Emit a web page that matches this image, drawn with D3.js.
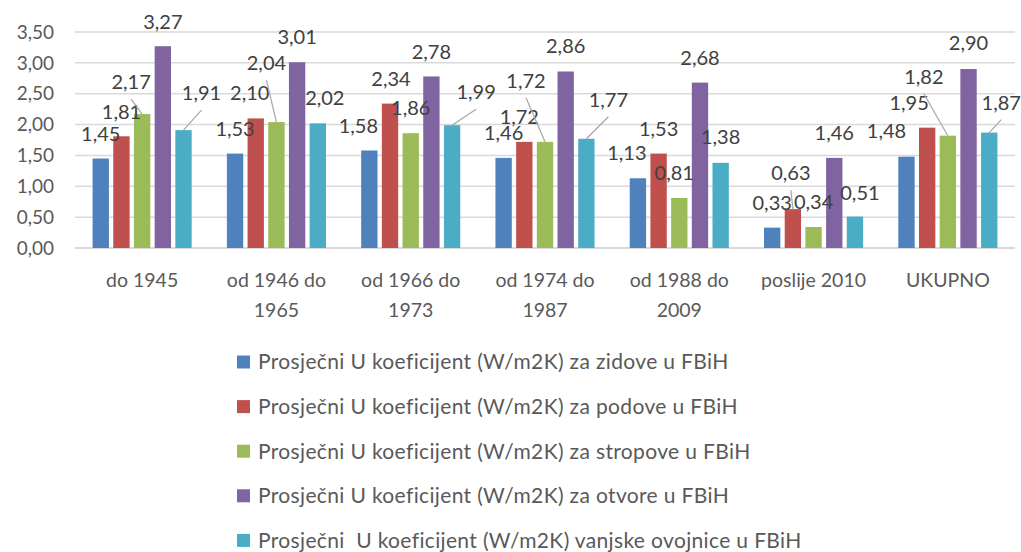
<!DOCTYPE html>
<html>
<head>
<meta charset="utf-8">
<script src="https://cdn.jsdelivr.net/npm/d3@7"></script>
<style>
  body { margin: 0; background: #fff; }
  svg text { font-family: Lato, "Open Sans", sans-serif; fill: #595959; }
</style>
</head>
<body>
<svg id="chart" width="1021" height="552"></svg>
<script>
// categories (x axis)
var categories = ["do 1945", "od 1946 do 1965", "od 1966 do 1973", "od 1974 do 1987",
                  "od 1988 do 2009", "poslije 2010", "UKUPNO"];

// series names (legend)
var seriesNames = [
  "Prosječni U koeficijent (W/m2K) za zidove u FBiH",
  "Prosječni U koeficijent (W/m2K) za podove u FBiH",
  "Prosječni U koeficijent (W/m2K) za stropove u FBiH",
  "Prosječni U koeficijent (W/m2K) za otvore u FBiH",
  "Prosječni  U koeficijent (W/m2K) vanjske ovojnice u FBiH"
];

// values per series
var zidove   = [1.45, 1.53, 1.58, 1.46, 1.13, 0.33, 1.48];
var podove   = [1.81, 2.10, 2.34, 1.72, 1.53, 0.63, 1.95];
var stropove = [2.17, 2.04, 1.86, 1.72, 0.81, 0.34, 1.82];
var otvore   = [3.27, 3.01, 2.78, 2.86, 2.68, 1.46, 2.90];
var ovojnice = [1.91, 2.02, 1.99, 1.77, 1.38, 0.51, 1.87];

var yTicks = [0, 0.5, 1, 1.5, 2, 2.5, 3, 3.5];

var colors = ["#4f81bd", "#c0504d", "#9bbb59", "#8064a2", "#4bacc6"];

// label nudges [dx, dy, leader] as excel placed them, rows = series, cols = categories
var labelNudge = [
  [[0,-25,0],[0,-25,0],[-11,-24,0],[0,-25,0],[-11,-25,0],[0,-25,0],[-20,-26,0]],
  [[0,-24,0],[-6,-25,0],[1,-25,0],[-5,-25,0],[0,-25,0],[-2,-36,1],[-18,-25,0]],
  [[-11,-32,1],[-10,-59,1],[0,-25,0],[-19,-61,1],[-5,-25,0],[0,-25,0],[-24,-59,1]],
  [[0,-24,0],[0,-25,0],[0,-24,0],[0,-25,0],[0,-25,0],[0,-25,0],[0,-26,0]],
  [[18,-37,1],[7,-25,0],[24,-33,1],[22,-39,1],[0,-26,0],[5,-24,0],[12,-30,1]]
];

var series = [zidove, podove, stropove, otvore, ovojnice];

var svg = d3.select("#chart");

var x0 = d3.scaleBand().domain(categories).range([75, 1015]).paddingInner(0).paddingOuter(0);
var x1 = d3.scaleBand().domain(d3.range(series.length))
  .range([x0.bandwidth() * 0.131, x0.bandwidth() * 0.869]).paddingInner(0.21).paddingOuter(0);
var y = d3.scaleLinear().domain([0, 3.5]).range([248, 32]);

var fmt = function(v) { return d3.format(".2f")(v).replace(".", ","); };

// gridlines
svg.append("g").selectAll("line").data(yTicks).join("line")
  .attr("x1", 75).attr("x2", 1015)
  .attr("y1", function(d) { return y(d); }).attr("y2", function(d) { return y(d); })
  .attr("stroke", "#d9d9d9").attr("stroke-width", function(d) { return d === 0 ? 2 : 1.5; });

// y axis labels
svg.append("g").selectAll("text").data(yTicks).join("text")
  .attr("x", 54).attr("y", function(d) { return y(d); })
  .attr("dy", "0.35em").attr("text-anchor", "end")
  .style("font-size", "19px")
  .text(fmt);

// bars
var groups = svg.append("g").selectAll("g").data(series).join("g")
  .attr("fill", function(d, i) { return colors[i]; });

groups.each(function(vals, si) {
  d3.select(this).selectAll("rect").data(vals).join("rect")
    .attr("x", function(d, ci) { return x0(categories[ci]) + x1(si); })
    .attr("width", x1.bandwidth())
    .attr("y", function(d) { return y(d); })
    .attr("height", function(d) { return y(0) - y(d); });
});

// data labels + leader lines
var labelLayer = svg.append("g");
series.forEach(function(vals, si) {
  vals.forEach(function(v, ci) {
    var bx = x0(categories[ci]) + x1(si) + x1.bandwidth() / 2;
    var by = y(v);
    var n = labelNudge[si][ci];
    var lx = bx + n[0], ly = by + n[1];
    if (n[2]) {
      labelLayer.append("line")
        .attr("x1", lx).attr("y1", ly + 17)
        .attr("x2", bx).attr("y2", by)
        .attr("stroke", "#a6a6a6").attr("stroke-width", 1.2);
    }
    labelLayer.append("text")
      .attr("x", lx).attr("y", ly).attr("dy", "0.35em")
      .attr("text-anchor", "middle")
      .style("font-size", "20px").style("fill", "#404040")
      .text(fmt(v));
  });
});

// x axis category labels (wrapped like excel)
var wrapped = {
  "od 1946 do 1965": ["od 1946 do", "1965"],
  "od 1966 do 1973": ["od 1966 do", "1973"],
  "od 1974 do 1987": ["od 1974 do", "1987"],
  "od 1988 do 2009": ["od 1988 do", "2009"]
};
var xl = svg.append("g").selectAll("text").data(categories).join("text")
  .attr("text-anchor", "middle")
  .attr("x", function(d) { return x0(d) + x0.bandwidth() / 2; })
  .attr("y", 280)
  .style("font-size", "19.5px");
xl.each(function(d) {
  var lines = wrapped[d] || [d];
  var t = d3.select(this);
  lines.forEach(function(l, i) {
    t.append("tspan").attr("x", x0(d) + x0.bandwidth() / 2)
      .attr("dy", i === 0 ? "0.35em" : "30px").text(l);
  });
});

// legend
var legend = svg.append("g").selectAll("g").data(seriesNames).join("g")
  .attr("transform", function(d, i) { return "translate(237," + (362 + i * 44.6) + ")"; });
legend.append("rect").attr("x", 0).attr("y", -6.5).attr("width", 13).attr("height", 13)
  .attr("fill", function(d, i) { return colors[i]; });
legend.append("text").attr("x", 21).attr("dy", "0.35em")
  .style("font-size", "21px").style("letter-spacing", "0.35px").style("white-space", "pre")
  .text(function(d) { return d; });
</script>
</body>
</html>
